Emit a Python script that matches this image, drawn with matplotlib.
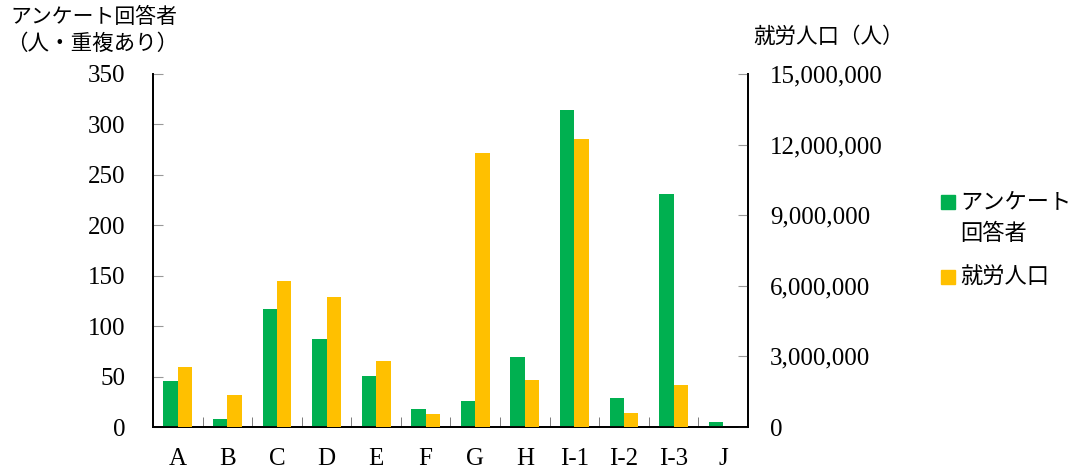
import numpy as np
import matplotlib.pyplot as plt
from matplotlib.ticker import FuncFormatter, MultipleLocator
from matplotlib.patches import Rectangle

categories = ['A', 'B', 'C', 'D', 'E', 'F', 'G', 'H', 'I-1', 'I-2', 'I-3', 'J']
respondents = [46, 8, 117, 87, 51, 18, 26, 69, 314, 29, 231, 5]
workforce = [2570000, 1345000, 6220000, 5540000, 2820000, 540000,
             11640000, 1985000, 12250000, 610000, 1775000, 0]

green = '#00b050'
orange = '#ffc000'
jp = ['Noto Sans CJK JP', 'DejaVu Sans']
serif = 'Liberation Serif'

fig = plt.figure(figsize=(10.81, 4.74), dpi=100)
ax = fig.add_axes([153/1081, 1 - 427/474, (748 - 153)/1081, (427 - 74)/474])
ax2 = ax.twinx()

x = np.arange(len(categories))
w = 0.29
ax.bar(x - w/2, respondents, w, color=green, zorder=3)
ax2.bar(x + w/2, workforce, w, color=orange, zorder=3)

ax.set_xlim(-0.5, len(categories) - 0.5)
ax.set_ylim(0, 350)
ax2.set_ylim(0, 15000000)
ax.yaxis.set_major_locator(MultipleLocator(50))
ax2.yaxis.set_major_locator(MultipleLocator(3000000))
ax2.yaxis.set_major_formatter(FuncFormatter(lambda v, p: f'{int(v):,}'))

ax.set_xticks(x)
ax.set_xticklabels(categories)
ax.set_xticks(np.arange(0.5, len(categories) - 1, 1.0), minor=True)
ax.tick_params(axis='x', which='major', length=0, pad=15)
ax.tick_params(axis='x', which='minor', direction='in', length=7, color='#666666')
ax.tick_params(axis='y', direction='in', length=7, color='#999999', pad=20)
ax2.tick_params(axis='y', direction='in', length=7, color='#999999', pad=16)

for lab in ax.get_xticklabels() + ax.get_yticklabels() + ax2.get_yticklabels():
    lab.set_fontfamily(serif)
    lab.set_fontsize(18)

for a in (ax, ax2):
    a.spines['top'].set_visible(False)
    for s in ('left', 'right', 'bottom'):
        a.spines[s].set_color('black')
        a.spines[s].set_linewidth(1.3)

fig.text(10/1081, 1 - 17/474, 'アンケート回答者', family=jp, fontsize=15, va='center')
fig.text(6/1081, 1 - 44/474, '（人・重複あり）', family=jp, fontsize=15.5, va='center')
fig.text(753/1081, 1 - 37/474, '就労人口（人）', family=jp, fontsize=15.5, va='center')

# legend
fig.patches.append(Rectangle((941/1081, 1 - 209/474), 14/1081, 14/474,
                             transform=fig.transFigure, color=green))
fig.text(960/1081, 1 - 202/474, 'アンケート', family=jp, fontsize=16, va='center')
fig.text(960/1081, 1 - 233/474, '回答者', family=jp, fontsize=16, va='center')
fig.patches.append(Rectangle((941/1081, 1 - 284/474), 14/1081, 14/474,
                             transform=fig.transFigure, color=orange))
fig.text(960/1081, 1 - 277/474, '就労人口', family=jp, fontsize=16, va='center')

fig.savefig('out.png', dpi=100)
